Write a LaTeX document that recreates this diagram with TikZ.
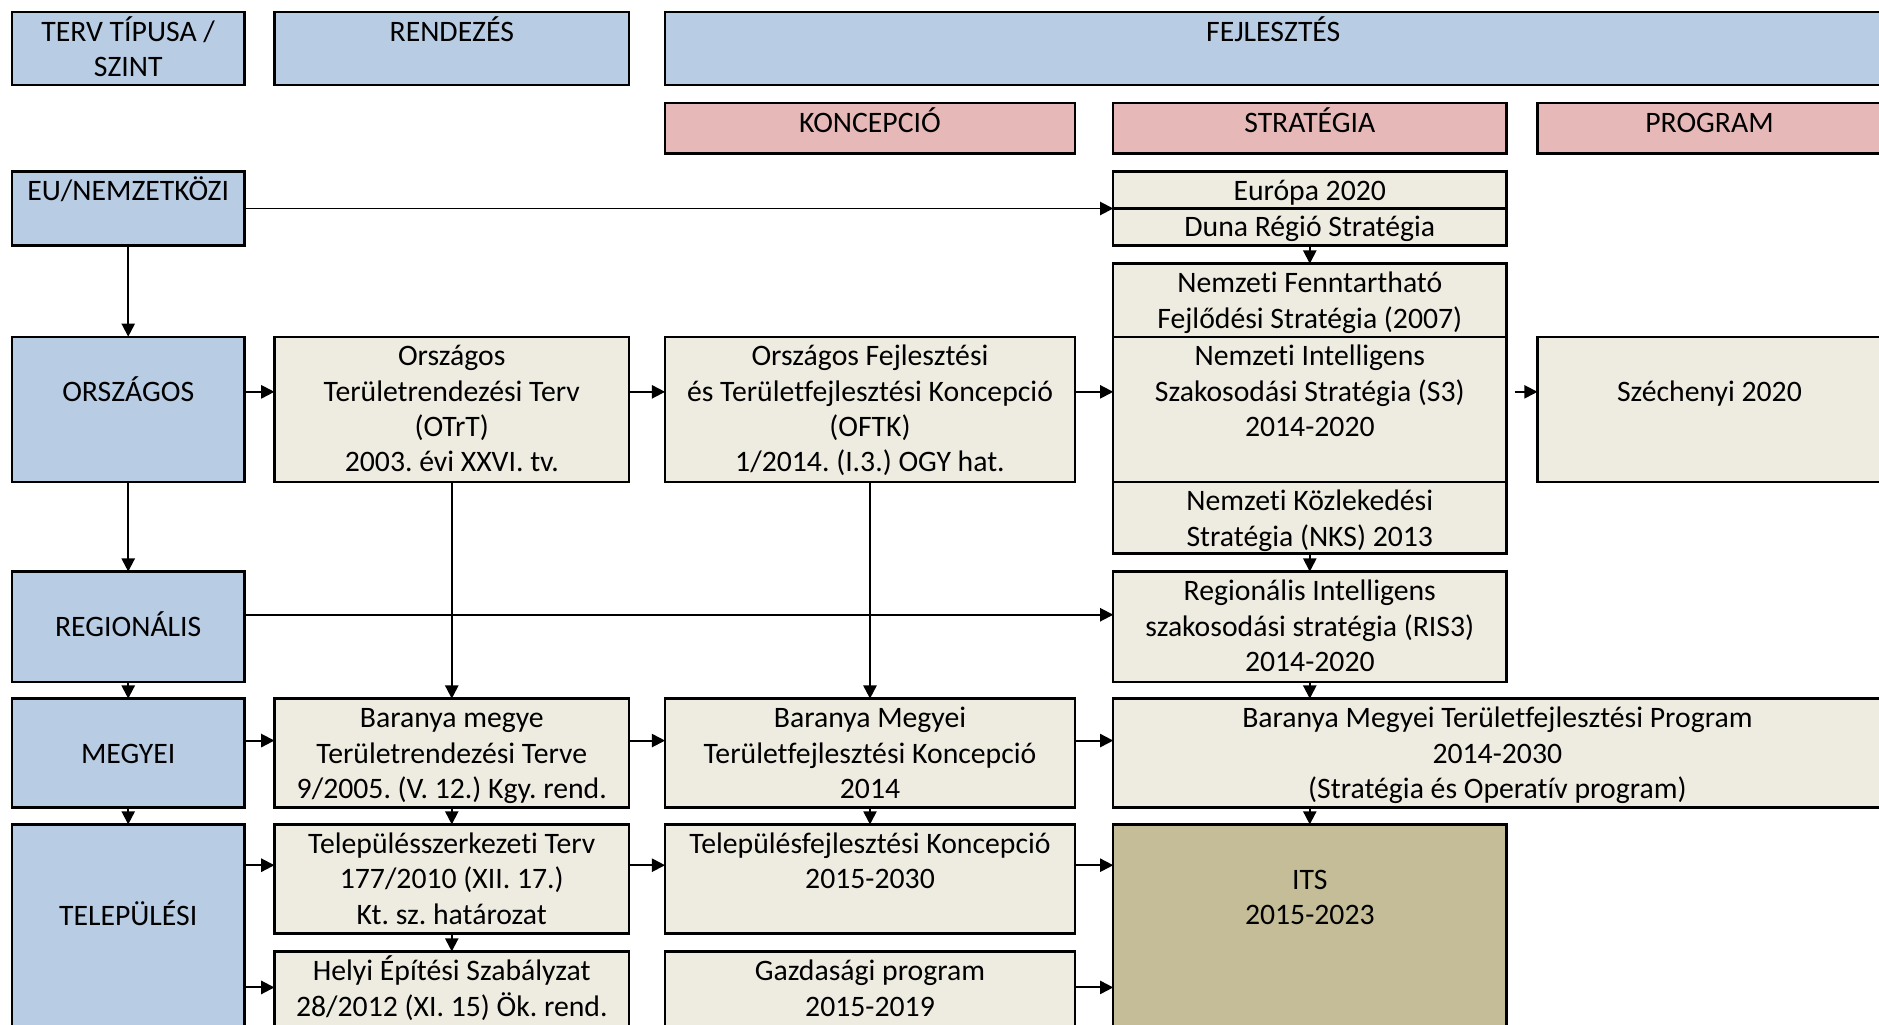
\documentclass[tikz,border=0pt]{standalone}
\usepackage{fontspec}
\setmainfont{Carlito}[Ligatures=NoCommon]
\usetikzlibrary{arrows.meta,calc}
\definecolor{cblue}{HTML}{B8CCE4}
\definecolor{cpink}{HTML}{E6B9B8}
\definecolor{cbeige}{HTML}{EEECE1}
\definecolor{colive}{HTML}{C4BD97}
\frenchspacing
\tikzset{
  box/.style={draw=black, line width=1pt, inner sep=0pt, outer sep=0pt, rectangle},
  txt/.style={font=\fontsize{12.4}{14.75}\selectfont, align=center, inner sep=0pt, anchor=north},
  arr/.style={line width=0.8pt, -{Triangle[length=5.5pt,width=5.5pt]}},
}
\newcommand\mkbox[6]{\node[box,fill=#2,minimum width={((#5)-(#3))*0.5pt},minimum height={((#6)-(#4))*0.5pt},anchor=north west] (#1) at (#3,#4) {};}
\newcommand\mktext[4]{\node[txt] (#1) at ($(#2.north)+(0,#3)$) {\strut #4};}
\begin{document}
\begin{tikzpicture}[x=0.5pt,y=-0.5pt]
\useasboundingbox (0,0) rectangle (1568,855);
\clip (0,0) rectangle (1568,855);
% header
\mkbox{terv}{cblue}{10}{10}{204}{71}
\mkbox{rend}{cblue}{229}{10}{525}{71}
\mkbox{fejl}{cblue}{555}{10}{1570}{71}
\mkbox{konc}{cpink}{555}{86}{897}{128}
\mkbox{strat}{cpink}{929}{86}{1257}{128}
\mkbox{prog}{cpink}{1283}{86}{1570}{128}
% EU
\mkbox{eu}{cblue}{10}{143}{204}{205}
\mkbox{eur}{cbeige}{929}{143}{1257}{174}
\mkbox{duna}{cbeige}{929}{174}{1257}{205}
% national
\mkbox{nffs}{cbeige}{929}{220}{1257}{281}
\mkbox{niss}{cbeige}{929}{281}{1257}{402}
\mkbox{nks}{cbeige}{929}{402}{1257}{462}
\mkbox{orsz}{cblue}{10}{281}{204}{402}
\mkbox{otrt}{cbeige}{229}{281}{525}{402}
\mkbox{oftk}{cbeige}{555}{281}{897}{402}
\mkbox{szech}{cbeige}{1283}{281}{1570}{402}
% regional
\mkbox{reg}{cblue}{10}{477}{204}{569}
\mkbox{ris}{cbeige}{929}{477}{1257}{569}
% county
\mkbox{meg}{cblue}{10}{583}{204}{674}
\mkbox{bm}{cbeige}{229}{583}{525}{674}
\mkbox{bmtk}{cbeige}{555}{583}{897}{674}
\mkbox{bmtp}{cbeige}{929}{583}{1570}{674}
% local
\mkbox{tel}{cblue}{10}{688}{204}{870}
\mkbox{tszt}{cbeige}{229}{688}{525}{779}
\mkbox{tfk}{cbeige}{555}{688}{897}{779}
\mkbox{its}{colive}{929}{688}{1257}{870}
\mkbox{hesz}{cbeige}{229}{794}{525}{870}
\mkbox{gazd}{cbeige}{555}{794}{897}{870}
% texts
\mktext{t-terv}{terv}{3.3}{TERV TÍPUSA /\\SZINT}
\mktext{t-rend}{rend}{3.3}{RENDEZÉS}
\mktext{t-fejl}{fejl}{3.3}{FEJLESZTÉS}
\mktext{t-konc}{konc}{3.3}{KONCEPCIÓ}
\mktext{t-strat}{strat}{3.3}{STRATÉGIA}
\mktext{t-prog}{prog}{3.3}{PROGRAM}
\mktext{t-eu}{eu}{3.3}{EU/NEMZETKÖZI}
\mktext{t-eur}{eur}{3.3}{Európa 2020}
\mktext{t-duna}{duna}{2.6}{Duna Régió Stratégia}
\mktext{t-nffs}{nffs}{3.3}{Nemzeti Fenntartható\\Fejlődési Stratégia (2007)}
\mktext{t-niss}{niss}{3.3}{Nemzeti Intelligens\\Szakosodási Stratégia (S3)\\2014-2020}
\mktext{t-nks}{nks}{3.3}{Nemzeti Közlekedési\\Stratégia (NKS) 2013}
\mktext{t-orsz}{orsz}{33.3}{ORSZÁGOS}
\mktext{t-otrt}{otrt}{3.3}{Országos\\Területrendezési Terv\\(OTrT)\\2003. évi XXVI. tv.}
\mktext{t-oftk}{oftk}{3.3}{Országos Fejlesztési\\és Területfejlesztési Koncepció\\(OFTK)\\1/2014. (I.3.) OGY hat.}
\mktext{t-szech}{szech}{33.3}{Széchenyi 2020}
\mktext{t-reg}{reg}{33.3}{REGIONÁLIS}
\mktext{t-ris}{ris}{3.3}{Regionális Intelligens\\szakosodási stratégia (RIS3)\\2014-2020}
\mktext{t-meg}{meg}{33.3}{MEGYEI}
\mktext{t-bm}{bm}{3.3}{Baranya megye\\Területrendezési Terve\\9/2005. (V. 12.) Kgy. rend.}
\mktext{t-bmtk}{bmtk}{3.3}{Baranya Megyei\\Területfejlesztési Koncepció\\2014}
\mktext{t-bmtp}{bmtp}{3.3}{Baranya Megyei Területfejlesztési Program\\2014-2030\\(Stratégia és Operatív program)}
\mktext{t-tel}{tel}{63.3}{TELEPÜLÉSI}
\mktext{t-tszt}{tszt}{3.3}{Településszerkezeti Terv\\177/2010 (XII. 17.)\\Kt. sz. határozat}
\mktext{t-tfk}{tfk}{3.3}{Településfejlesztési Koncepció\\2015-2030}
\mktext{t-its}{its}{33.3}{ITS\\2015-2023}
\mktext{t-hesz}{hesz}{3.3}{Helyi Építési Szabályzat\\28/2012 (XI. 15) Ök. rend.}
\mktext{t-gazd}{gazd}{3.3}{Gazdasági program\\2015-2019}
% connectors
\draw[arr] (eu.east |- eur.south west) -- (eur.south west);
\draw[arr] (eu.south) -- (orsz.north);
\draw[arr] (duna.south) -- (nffs.north);
\draw[arr] (orsz.east |- 0,327) -- (otrt.west |- 0,327);
\draw[arr] (otrt.east |- 0,327) -- (oftk.west |- 0,327);
\draw[arr] (oftk.east |- 0,327) -- (niss.west |- 0,327);
\draw[arr] ($(niss.east |- 0,327)+(7,0)$) -- (szech.west |- 0,327);
\draw[arr] (orsz.south) -- (reg.north);
\draw[arr] (otrt.south) -- (bm.north);
\draw[arr] (oftk.south) -- (bmtk.north);
\draw[arr] (nks.south) -- (ris.north);
\draw[arr] (reg.east |- 0,513) -- (ris.west |- 0,513);
\draw[arr] (reg.south) -- (meg.north);
\draw[arr] (ris.south) -- (ris.south |- bmtp.north);
\draw[arr] (meg.east |- 0,618) -- (bm.west |- 0,618);
\draw[arr] (bm.east |- 0,618) -- (bmtk.west |- 0,618);
\draw[arr] (bmtk.east |- 0,618) -- (bmtp.west |- 0,618);
\draw[arr] (meg.south) -- (tel.north);
\draw[arr] (bm.south) -- (tszt.north);
\draw[arr] (bmtk.south) -- (tfk.north);
\draw[arr] (its.north |- bmtp.south) -- (its.north);
\draw[arr] (tel.east |- 0,722) -- (tszt.west |- 0,722);
\draw[arr] (tel.east |- 0,824) -- (hesz.west |- 0,824);
\draw[arr] (tszt.east |- 0,722) -- (tfk.west |- 0,722);
\draw[arr] (tfk.east |- 0,722) -- (its.west |- 0,722);
\draw[arr] (gazd.east |- 0,824) -- (its.west |- 0,824);
\draw[arr] (tszt.south) -- (hesz.north);
\end{tikzpicture}
\end{document}
